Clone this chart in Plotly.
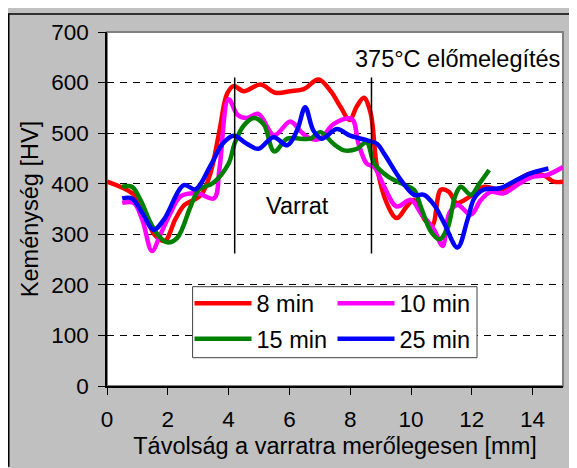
import plotly.graph_objects as go

# ---- data ----
x_8min = [0, 0.85, 1.2, 1.55, 1.9, 2.25, 2.55, 2.85, 3.1, 3.4, 3.7, 3.95, 4.17, 4.5, 5.05, 5.54, 6.03,
          6.47, 6.96, 7.36, 7.69, 7.98, 8.22, 8.45, 8.67, 8.88, 9.2, 9.53, 9.86, 10.1, 10.45, 10.7,
          10.98, 11.25, 11.5, 11.95, 12.4, 12.95, 13.5, 13.9, 14.35, 14.7, 15.0]
y_8min = [404, 380, 350, 300, 287, 330, 358, 368, 378, 420, 505, 578, 593, 583, 596, 580, 583,
          587, 606, 583, 551, 526, 553, 570, 540, 433, 362, 332, 355, 368, 329, 318,
          388, 384, 362, 375, 394, 388, 407, 420, 417, 404, 404]

x_10min = [0.5, 0.88, 1.16, 1.48, 1.76, 2.09, 2.42, 2.97, 3.52, 3.7, 4.0, 4.3, 4.6, 4.98, 5.5, 6.03,
           6.36, 6.69, 7.02, 7.45, 8.05, 8.27, 8.54, 8.79, 9.12, 9.53, 10.0, 10.32, 10.76, 11.04,
           11.26, 11.53, 11.97, 12.3, 12.63, 13.04, 13.58, 14.02, 14.46, 15.0]
y_10min = [362, 362, 329, 267, 300, 342, 375, 381, 371, 430, 567, 536, 530, 538, 496, 523,
           504, 489, 489, 518, 528, 480, 440, 433, 394, 355, 368, 342, 309, 277,
           342, 358, 339, 368, 384, 381, 401, 414, 417, 433]

x_15min = [0.5, 0.82, 1.1, 1.43, 1.7, 1.98, 2.31, 2.75, 3.02, 3.5, 4.0, 4.2, 4.5, 4.83, 5.16, 5.5,
           5.93, 6.36, 6.69, 7.02, 7.45, 7.8, 8.22, 8.54, 8.79, 9.25, 9.78, 10.1, 10.32, 10.65,
           10.93, 11.2, 11.45, 11.64, 11.97, 12.25, 12.57]
y_15min = [394, 394, 368, 323, 297, 284, 293, 355, 388, 402, 440, 480, 515, 530, 517, 464,
           489, 489, 489, 502, 479, 466, 469, 482, 440, 414, 398, 388, 355, 306,
           290, 312, 375, 394, 378, 400, 427]

x_25min = [0.5, 0.82, 1.16, 1.54, 1.87, 2.53, 2.91, 3.4, 3.8, 4.17, 4.6, 4.98, 5.48, 5.93, 6.25,
           6.52, 6.79, 7.07, 7.56, 8.0, 8.54, 8.88, 9.12, 9.67, 10.1, 10.43, 10.76, 11.09, 11.53,
           11.86, 12.08, 12.38, 12.93, 13.37, 13.91, 14.52]
y_25min = [371, 371, 342, 309, 329, 397, 389, 435, 479, 495, 479, 469, 492, 476, 505,
           551, 505, 489, 508, 495, 486, 479, 459, 407, 378, 378, 358, 322, 274,
           329, 371, 388, 391, 404, 420, 430]

series_names = ["8 min", "10 min", "15 min", "25 min"]
x_ticks = [0, 2, 4, 6, 8, 10, 12, 14]
y_ticks = [0, 100, 200, 300, 400, 500, 600, 700]
weld_edges = [4.2, 8.7]          # vertical marker lines (mm)
weld_line_span = [262, 610]      # HV extent of the marker lines

colors = ["#FF0000", "#FF00FF", "#008000", "#0000FF"]
legend_ids = ["legend", "legend", "legend2", "legend2"]
FONT = "Liberation Sans, Arial, sans-serif"

W, H = 569, 460            # page body has an 8px default margin
ML, MR, MT, MB = 99, 14, 19, 82
PW, PH = W - ML - MR, H - MT - MB

fig = go.Figure()
for name, xs, ys, c, lg in zip(series_names,
                               [x_8min, x_10min, x_15min, x_25min],
                               [y_8min, y_10min, y_15min, y_25min], colors, legend_ids):
    fig.add_trace(go.Scatter(x=xs, y=ys, mode="lines", name=name, legend=lg,
                             line=dict(color=c, width=4.5, shape="spline", smoothing=1.0)))

px_x = lambda p: p / PW
px_y = lambda p: p / PH

shapes = []
# black frame line along top and left of the grey chart area
shapes.append(dict(type="line", xref="paper", yref="paper",
                   x0=px_x(-ML + 0.75), x1=px_x(PW + MR), y0=1 + px_y(MT - 0.75), y1=1 + px_y(MT - 0.75),
                   line=dict(color="black", width=1.5), layer="below"))
shapes.append(dict(type="line", xref="paper", yref="paper",
                   x0=px_x(-ML + 0.75), x1=px_x(-ML + 0.75), y0=px_y(-MB), y1=1 + px_y(MT),
                   line=dict(color="black", width=1.5), layer="below"))
# plot area border
shapes.append(dict(type="rect", xref="paper", yref="paper", x0=0, x1=1, y0=0, y1=1,
                   line=dict(color="#808080", width=2), layer="below"))
for xe in weld_edges:
    shapes.append(dict(type="line", xref="x", yref="y", x0=xe, x1=xe,
                       y0=weld_line_span[0], y1=weld_line_span[1],
                       line=dict(color="black", width=1.5)))
# legend frame (white box)
shapes.append(dict(type="rect", xref="paper", yref="paper",
                   x0=px_x(85.6), x1=px_x(370), y0=px_y(28.7), y1=px_y(100.7),
                   fillcolor="white", line=dict(color="#404040", width=1), layer="above"))

leg_common = dict(orientation="h", xanchor="left", yanchor="middle", x=px_x(82.5),
                  bgcolor="rgba(0,0,0,0)", borderwidth=0, font=dict(size=23.5),
                  itemwidth=57, entrywidth=71, entrywidthmode="pixels", traceorder="normal")

fig.update_layout(
    width=W, height=H,
    margin=dict(l=ML, r=MR, t=MT, b=MB),
    paper_bgcolor="#C0C0C0", plot_bgcolor="white",
    font=dict(family=FONT, size=22.5, color="black"),
    shapes=shapes,
    showlegend=True,
    legend=dict(y=px_y(83.7), **leg_common),
    legend2=dict(y=px_y(47.7), **leg_common),
    annotations=[
        dict(text="375°C előmelegítés", x=11.54, y=647, xref="x", yref="y",
             showarrow=False, font=dict(size=23.5), xanchor="center", yanchor="middle"),
        dict(text="Varrat", x=6.27, y=356, xref="x", yref="y",
             showarrow=False, font=dict(size=23.5), xanchor="center", yanchor="middle"),
    ],
)
fig.update_xaxes(range=[0, 15], tickvals=x_ticks, ticks="outside", ticklen=7, tickcolor="black",
                 tickwidth=1, showline=True, linecolor="black", linewidth=1.5, showgrid=False,
                 zeroline=False, ticklabelstandoff=5,
                 title=dict(text="Távolság a varratra merőlegesen [mm]", font=dict(size=23.5), standoff=7))
fig.update_yaxes(range=[0, 700], tickvals=y_ticks, ticks="outside", ticklen=7, tickcolor="black",
                 tickwidth=1, showline=True, linecolor="black", linewidth=1.5, showgrid=True,
                 gridcolor="black", gridwidth=1, griddash="7px,6px", zeroline=False,
                 ticklabelstandoff=5,
                 title=dict(text="Keménység [HV]", font=dict(size=23.5), standoff=6))

fig.write_html("out.html")
